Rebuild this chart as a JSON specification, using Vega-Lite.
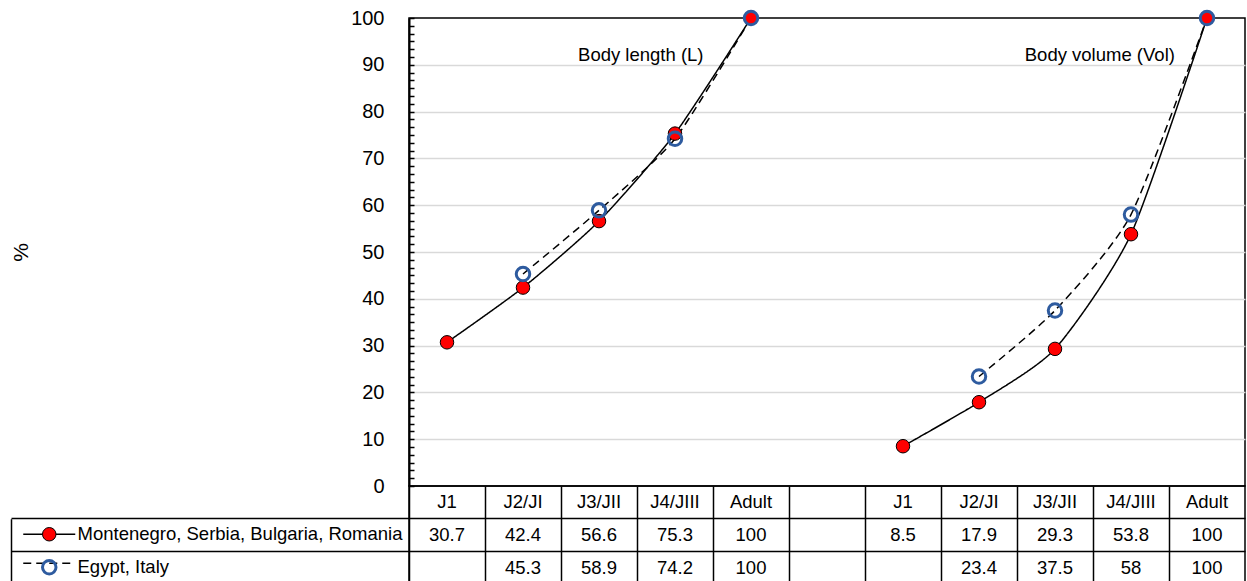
{
  "$schema": "https://vega.github.io/schema/vega-lite/v6.json",
  "autosize": {"type": "pad"},
  "padding": {"left": 9, "top": 4, "right": 0, "bottom": 0},
  "background": "white",
  "spacing": 0,
  "bounds": "flush",
  "config": {
    "font": "Liberation Sans",
    "view": {"stroke": "black", "strokeWidth": 1.5},
    "text": {"font": "Liberation Sans", "color": "black"}
  },
  "datasets": {
    "points": [
      {"series": "Montenegro, Serbia, Bulgaria, Romania", "trait": "L", "stage": "J1", "slot": "L1", "value": 30.7},
      {"series": "Montenegro, Serbia, Bulgaria, Romania", "trait": "L", "stage": "J2/JI", "slot": "L2", "value": 42.4},
      {"series": "Montenegro, Serbia, Bulgaria, Romania", "trait": "L", "stage": "J3/JII", "slot": "L3", "value": 56.6},
      {"series": "Montenegro, Serbia, Bulgaria, Romania", "trait": "L", "stage": "J4/JIII", "slot": "L4", "value": 75.3},
      {"series": "Montenegro, Serbia, Bulgaria, Romania", "trait": "L", "stage": "Adult", "slot": "L5", "value": 100},
      {"series": "Montenegro, Serbia, Bulgaria, Romania", "trait": "Vol", "stage": "J1", "slot": "V1", "value": 8.5},
      {"series": "Montenegro, Serbia, Bulgaria, Romania", "trait": "Vol", "stage": "J2/JI", "slot": "V2", "value": 17.9},
      {"series": "Montenegro, Serbia, Bulgaria, Romania", "trait": "Vol", "stage": "J3/JII", "slot": "V3", "value": 29.3},
      {"series": "Montenegro, Serbia, Bulgaria, Romania", "trait": "Vol", "stage": "J4/JIII", "slot": "V4", "value": 53.8},
      {"series": "Montenegro, Serbia, Bulgaria, Romania", "trait": "Vol", "stage": "Adult", "slot": "V5", "value": 100},
      {"series": "Egypt, Italy", "trait": "L", "stage": "J2/JI", "slot": "L2", "value": 45.3},
      {"series": "Egypt, Italy", "trait": "L", "stage": "J3/JII", "slot": "L3", "value": 58.9},
      {"series": "Egypt, Italy", "trait": "L", "stage": "J4/JIII", "slot": "L4", "value": 74.2},
      {"series": "Egypt, Italy", "trait": "L", "stage": "Adult", "slot": "L5", "value": 100},
      {"series": "Egypt, Italy", "trait": "Vol", "stage": "J2/JI", "slot": "V2", "value": 23.4},
      {"series": "Egypt, Italy", "trait": "Vol", "stage": "J3/JII", "slot": "V3", "value": 37.5},
      {"series": "Egypt, Italy", "trait": "Vol", "stage": "J4/JIII", "slot": "V4", "value": 58},
      {"series": "Egypt, Italy", "trait": "Vol", "stage": "Adult", "slot": "V5", "value": 100}
    ],
    "stages": [
      {"slot": "L1", "stage": "J1"},
      {"slot": "L2", "stage": "J2/JI"},
      {"slot": "L3", "stage": "J3/JII"},
      {"slot": "L4", "stage": "J4/JIII"},
      {"slot": "L5", "stage": "Adult"},
      {"slot": "V1", "stage": "J1"},
      {"slot": "V2", "stage": "J2/JI"},
      {"slot": "V3", "stage": "J3/JII"},
      {"slot": "V4", "stage": "J4/JIII"},
      {"slot": "V5", "stage": "Adult"}
    ]
  },
  "vconcat": [
    {
      "width": 836,
      "height": 468,
      "layer": [
        {
          "data": {"name": "points"},
          "mark": {"type": "line", "interpolate": "cardinal", "tension": 0.35, "color": "black", "strokeWidth": 1.5},
          "encoding": {
            "x": {"field": "slot", "type": "nominal", "axis": null,
                  "scale": {"type": "band", "domain": ["L1","L2","L3","L4","L5","gap","V1","V2","V3","V4","V5"], "paddingInner": 0, "paddingOuter": 0}},
            "y": {"field": "value", "type": "quantitative",
                  "scale": {"domain": [0, 100], "nice": false, "zero": true},
                  "axis": {
                    "values": [0,1.6667,3.3333,5,6.6667,8.3333,10,11.6667,13.3333,15,16.6667,18.3333,20,21.6667,23.3333,25,26.6667,28.3333,30,31.6667,33.3333,35,36.6667,38.3333,40,41.6667,43.3333,45,46.6667,48.3333,50,51.6667,53.3333,55,56.6667,58.3333,60,61.6667,63.3333,65,66.6667,68.3333,70,71.6667,73.3333,75,76.6667,78.3333,80,81.6667,83.3333,85,86.6667,88.3333,90,91.6667,93.3333,95,96.6667,98.3333,100],
                    "tickCount": 500,
                    "format": "d",
                    "labelExpr": "datum.value % 10 === 0 ? format(datum.value, 'd') : ''",
                    "labelOverlap": false,
                    "labelFont": "Liberation Sans",
                    "labelFontSize": 20,
                    "labelColor": "black",
                    "labelPadding": 30,
                    "labelBound": false,
                    "grid": true,
                    "gridColor": "#d9d9d9",
                    "gridWidth": 1.5,
                    "gridOpacity": {"condition": {"test": "datum.value % 10 === 0 && datum.value > 0 && datum.value < 100", "value": 1}, "value": 0},
                    "ticks": true,
                    "tickSize": -5,
                    "tickColor": "black",
                    "tickWidth": 1.5,
                    "domain": true,
                    "domainColor": "black",
                    "domainWidth": 2,
                    "title": "%",
                    "titleFont": "Liberation Sans",
                    "titleFontSize": 21,
                    "titleFontWeight": "normal",
                    "titleColor": "black",
                    "titleAngle": -90,
                    "titleAlign": "center",
                    "titleBaseline": "middle",
                    "titleX": -388,
                    "titleY": 234
                  }},
            "detail": {"field": "trait", "type": "nominal"},
            "strokeDash": {"field": "series", "type": "nominal",
              "scale": {"domain": ["Egypt, Italy", "Montenegro, Serbia, Bulgaria, Romania"], "range": [[8, 5], [1, 0]]},
              "legend": {
                "orient": "none", "legendX": -369, "legendY": 507, "title": null,
                "values": ["Montenegro, Serbia, Bulgaria, Romania", "Egypt, Italy"],
                "padding": 0, "rowPadding": 10, "labelFontSize": 18.5, "labelExpr": "''",
                "symbolType": "M-4,0H4", "symbolSize": 169, "symbolStrokeColor": "black", "symbolStrokeWidth": 1.5
              }}
          }
        },
        {
          "data": {"name": "points"},
          "mark": {"type": "point", "shape": "circle", "filled": true, "size": 182, "opacity": 1},
          "encoding": {
            "x": {"field": "slot", "type": "nominal", "axis": null},
            "y": {"field": "value", "type": "quantitative"},
            "fill": {"field": "series", "type": "nominal",
              "scale": {"domain": ["Montenegro, Serbia, Bulgaria, Romania", "Egypt, Italy"], "range": ["#ff0000", "transparent"]},
              "legend": {
                "orient": "none", "legendX": -369, "legendY": 507, "title": null,
                "padding": 0, "rowPadding": 10, "labelFontSize": 18.5, "labelFont": "Liberation Sans", "labelColor": "black",
                "labelOffset": 19, "labelLimit": 400, "symbolType": "circle", "symbolSize": 182
              }},
            "stroke": {"field": "series", "type": "nominal",
              "scale": {"domain": ["Montenegro, Serbia, Bulgaria, Romania", "Egypt, Italy"], "range": ["#000000", "#2e5b9f"]},
              "legend": {
                "orient": "none", "legendX": -369, "legendY": 507, "title": null,
                "padding": 0, "rowPadding": 10, "labelFontSize": 18.5, "labelFont": "Liberation Sans", "labelColor": "black",
                "labelOffset": 19, "labelLimit": 400, "symbolType": "circle", "symbolSize": 182
              }},
            "strokeWidth": {"field": "series", "type": "ordinal",
              "scale": {"domain": ["Montenegro, Serbia, Bulgaria, Romania", "Egypt, Italy"], "range": [1, 3]},
              "legend": {
                "orient": "none", "legendX": -369, "legendY": 507, "title": null,
                "padding": 0, "rowPadding": 10, "labelFontSize": 18.5, "labelFont": "Liberation Sans", "labelColor": "black",
                "labelOffset": 19, "labelLimit": 400, "symbolType": "circle", "symbolSize": 182
              }}
          }
        },
        {
          "data": {"values": [{"label": "Body length (L)"}]},
          "mark": {"type": "text", "fontSize": 18.5, "align": "center", "baseline": "middle"},
          "encoding": {
            "x": {"datum": "L4", "bandPosition": 0.05, "axis": null},
            "y": {"datum": 92},
            "text": {"field": "label", "type": "nominal"}
          }
        },
        {
          "data": {"values": [{"label": "Body volume (Vol)"}]},
          "mark": {"type": "text", "fontSize": 18.5, "align": "center", "baseline": "middle"},
          "encoding": {
            "x": {"datum": "V4", "bandPosition": 0.09, "axis": null},
            "y": {"datum": 92},
            "text": {"field": "label", "type": "nominal"}
          }
        }
      ]
    },
    {
      "width": 836,
      "height": 98,
      "layer": [
        {
          "data": {"name": "stages"},
          "mark": {"type": "text", "fontSize": 18.5, "align": "center", "baseline": "middle"},
          "encoding": {
            "x": {"field": "slot", "type": "nominal",
                  "scale": {"type": "band", "domain": ["L1","L2","L3","L4","L5","gap","V1","V2","V3","V4","V5"], "paddingInner": 0, "paddingOuter": 0},
                  "axis": {"orient": "top", "bandPosition": 0, "grid": true, "gridColor": "black", "gridWidth": 1.5, "gridOpacity": 1,
                           "ticks": false, "labels": false, "domain": false, "title": null}},
            "y": {"datum": "Stage", "type": "nominal",
                  "scale": {"type": "band", "domain": ["Stage", "Montenegro, Serbia, Bulgaria, Romania", "Egypt, Italy"], "paddingInner": 0, "paddingOuter": 0},
                  "axis": {
                    "orient": "left", "offset": 398, "bandPosition": 0,
                    "values": ["Montenegro, Serbia, Bulgaria, Romania", "Egypt, Italy"],
                    "labels": false, "grid": false, "title": null,
                    "ticks": true, "tickSize": -1234, "tickColor": "black", "tickWidth": 1.5,
                    "domain": true, "domainColor": "black", "domainWidth": 1.5,
                    "domainDash": [66, 32.7], "domainDashOffset": 66
                  }},
            "text": {"field": "stage", "type": "nominal"}
          }
        },
        {
          "data": {"name": "points"},
          "mark": {"type": "text", "fontSize": 18.5, "align": "center", "baseline": "middle"},
          "encoding": {
            "x": {"field": "slot", "type": "nominal"},
            "y": {"field": "series", "type": "nominal"},
            "text": {"field": "value", "type": "nominal"}
          }
        }
      ]
    }
  ]
}
